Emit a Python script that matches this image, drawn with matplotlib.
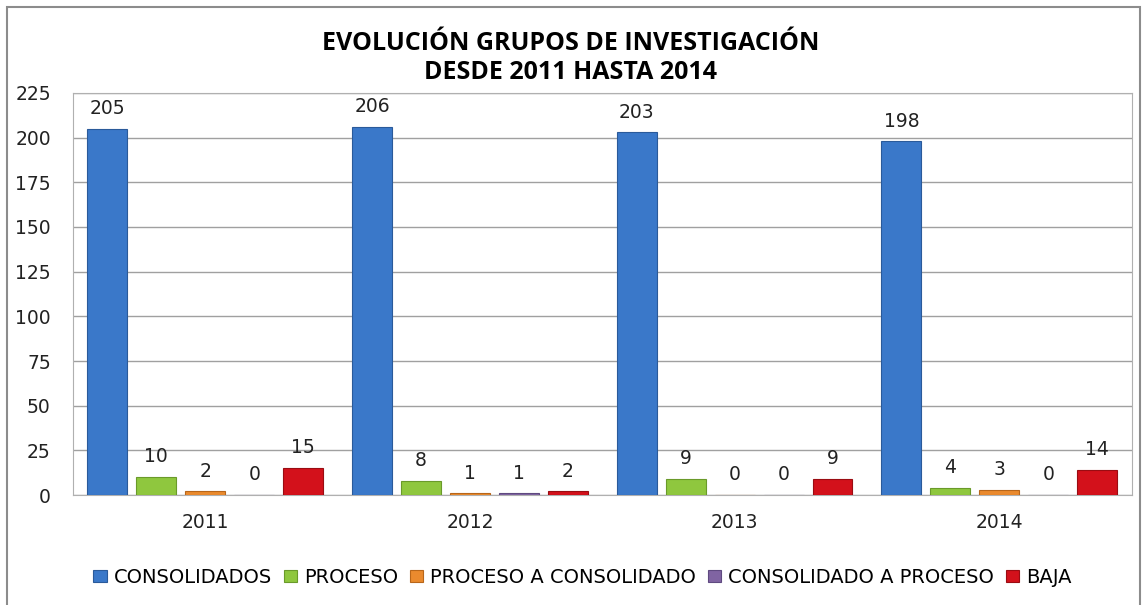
import numpy as np
import matplotlib.pyplot as plt
from matplotlib.patches import Rectangle

# Datos
years = ['2011', '2012', '2013', '2014']
series = ['CONSOLIDADOS', 'PROCESO', 'PROCESO A CONSOLIDADO',
          'CONSOLIDADO A PROCESO', 'BAJA']
consolidados = [205, 206, 203, 198]
proceso = [10, 8, 9, 4]
proceso_a_consolidado = [2, 1, 0, 3]
consolidado_a_proceso = [0, 1, 0, 0]
baja = [15, 2, 9, 14]

values = [consolidados, proceso, proceso_a_consolidado,
          consolidado_a_proceso, baja]
colors = ['#3a78c9', '#8fc73e', '#ea8a2e', '#8064a2', '#d3111b']
edges = ['#2a5a9a', '#6a9a2a', '#b8661a', '#5f4a80', '#9a0c12']

fig = plt.figure(figsize=(11.42, 6.05), dpi=100)
ax = fig.add_axes([0.0639, 0.1818, 0.927, 0.6645])

# marco exterior
fig.patches.append(Rectangle((7 / 1142, -0.01), (1140 - 7) / 1142, 1.01 - 7 / 605,
                             transform=fig.transFigure, fill=False,
                             edgecolor='#8c8c8c', lw=1.5))

x = np.arange(len(years))
slot = 49 / 265
width = 40 / 265
for i, (name, vals) in enumerate(zip(series, values)):
    pos = x + (i - 2) * slot
    ax.bar(pos, vals, width, color=colors[i], edgecolor=edges[i],
           linewidth=0.8, label=name, zorder=3)
    for px, v in zip(pos, vals):
        ax.text(px, v + 6, str(v), ha='center', va='bottom',
                fontsize=13.5, color='#222222', family='DejaVu Sans')

ax.set_xlim(-0.5, len(years) - 0.5)
ax.set_ylim(0, 225)
ax.set_yticks(np.arange(0, 226, 25))
ax.set_xticks(x)
ax.set_xticklabels(years)
ax.tick_params(axis='both', length=0, labelsize=13.5, colors='#222222')
ax.tick_params(axis='x', pad=13)
ax.tick_params(axis='y', pad=16)
ax.grid(axis='y', color='#a0a0a0', lw=1, zorder=0)
for s in ax.spines.values():
    s.set_color('#b0b0b0')

fig.text(0.5, 0.904, 'EVOLUCIÓN GRUPOS DE INVESTIGACIÓN\nDESDE 2011 HASTA 2014',
         ha='center', va='center', fontsize=18, fontweight='bold',
         family='Open Sans', linespacing=1.25)

fig.legend(loc='center', bbox_to_anchor=(0.51, 0.046), ncol=5, frameon=False,
           prop={'family': 'DejaVu Sans', 'size': 14}, handlelength=0.7,
           handleheight=0.6, handletextpad=0.35, columnspacing=0.6)

fig.savefig('out.png', dpi=100)
